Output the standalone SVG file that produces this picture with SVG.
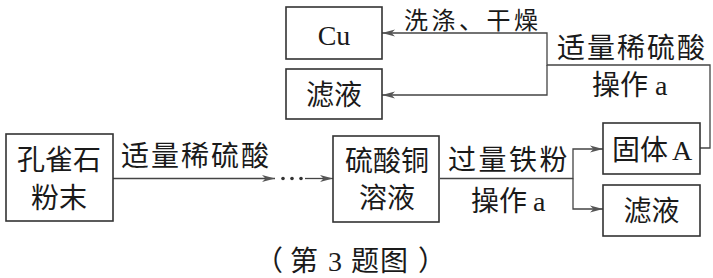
<svg xmlns="http://www.w3.org/2000/svg" width="713" height="278" viewBox="0 0 713 278">
<defs>
<style>
.box{fill:#fff;stroke:#333;stroke-width:1.6}
.cn{font-family:"Noto Sans CJK SC","Noto Sans",sans-serif;font-size:28px;fill:#1a1a1a}
.lat{font-family:"Liberation Serif",serif}
.ln{fill:none;stroke:#444;stroke-width:1.3}
</style>
<marker id="arr" markerUnits="userSpaceOnUse" markerWidth="14" markerHeight="8" refX="13" refY="4" orient="auto">
<path d="M0,0.5 L13,4 L0,7.5 L3.5,4 Z" fill="#555"/>
</marker>
</defs>
<rect width="713" height="278" fill="#fff"/>
<g id="connectors">
<line class="ln" x1="113" y1="178.5" x2="275" y2="178.5" marker-end="url(#arr)"/>
<circle cx="283" cy="178.5" r="1.8" fill="#333"/>
<circle cx="292" cy="178.5" r="1.8" fill="#333"/>
<circle cx="301" cy="178.5" r="1.8" fill="#333"/>
<line class="ln" x1="305" y1="178.5" x2="333" y2="178.5" marker-end="url(#arr)"/>
<path class="ln" d="M440,178.5 H573 V149 H603" marker-end="url(#arr)"/>
<path class="ln" d="M573,178.5 V209 H603" marker-end="url(#arr)"/>
<path class="ln" d="M700,148 H710 V65 H547 V33 H382" marker-end="url(#arr)"/>
<path class="ln" d="M547,65 V95 H382" marker-end="url(#arr)"/>
</g>
<g id="labels" class="cn">
<text x="121" y="166" letter-spacing="2">适量稀硫酸</text>
<text x="448" y="170" letter-spacing="2.5">过量铁粉</text>
<text x="471" y="211">操作<tspan class="lat" x="533">a</tspan></text>
<text x="404" y="28.5" font-size="24" letter-spacing="3.5">洗涤、干燥</text>
<text x="557" y="58" letter-spacing="2">适量稀硫酸</text>
<text x="592" y="95">操作<tspan class="lat" x="655">a</tspan></text>
</g>
<g id="node-malachite">
<rect class="box" x="6" y="134" width="107" height="87"/>
<text class="cn" x="59" y="170" text-anchor="middle">孔雀石</text>
<text class="cn" x="59" y="208" text-anchor="middle">粉末</text>
</g>
<g id="node-cuso4">
<rect class="box" x="333" y="136" width="106" height="86"/>
<text class="cn" x="387" y="171" text-anchor="middle">硫酸铜</text>
<text class="cn" x="387" y="208" text-anchor="middle">溶液</text>
</g>
<g id="node-solidA">
<rect class="box" x="603" y="123" width="97" height="51"/>
<text class="cn" x="612" y="160">固体<tspan class="lat" x="672">A</tspan></text>
</g>
<g id="node-filtrate2">
<rect class="box" x="603" y="185" width="97" height="51"/>
<text class="cn" x="651.5" y="221" text-anchor="middle">滤液</text>
</g>
<g id="node-cu">
<rect class="box" x="286" y="7" width="96" height="52"/>
<text class="cn lat" x="334" y="45" text-anchor="middle" font-size="29">Cu</text>
</g>
<g id="node-filtrate1">
<rect class="box" x="286" y="69" width="96" height="50"/>
<text class="cn" x="334" y="105" text-anchor="middle">滤液</text>
</g>
<text class="cn" y="271" font-size="26"><tspan x="255">（</tspan><tspan x="290">第</tspan><tspan class="lat" x="328">3</tspan><tspan x="351">题</tspan><tspan x="380">图</tspan><tspan x="418">）</tspan></text>
</svg>
